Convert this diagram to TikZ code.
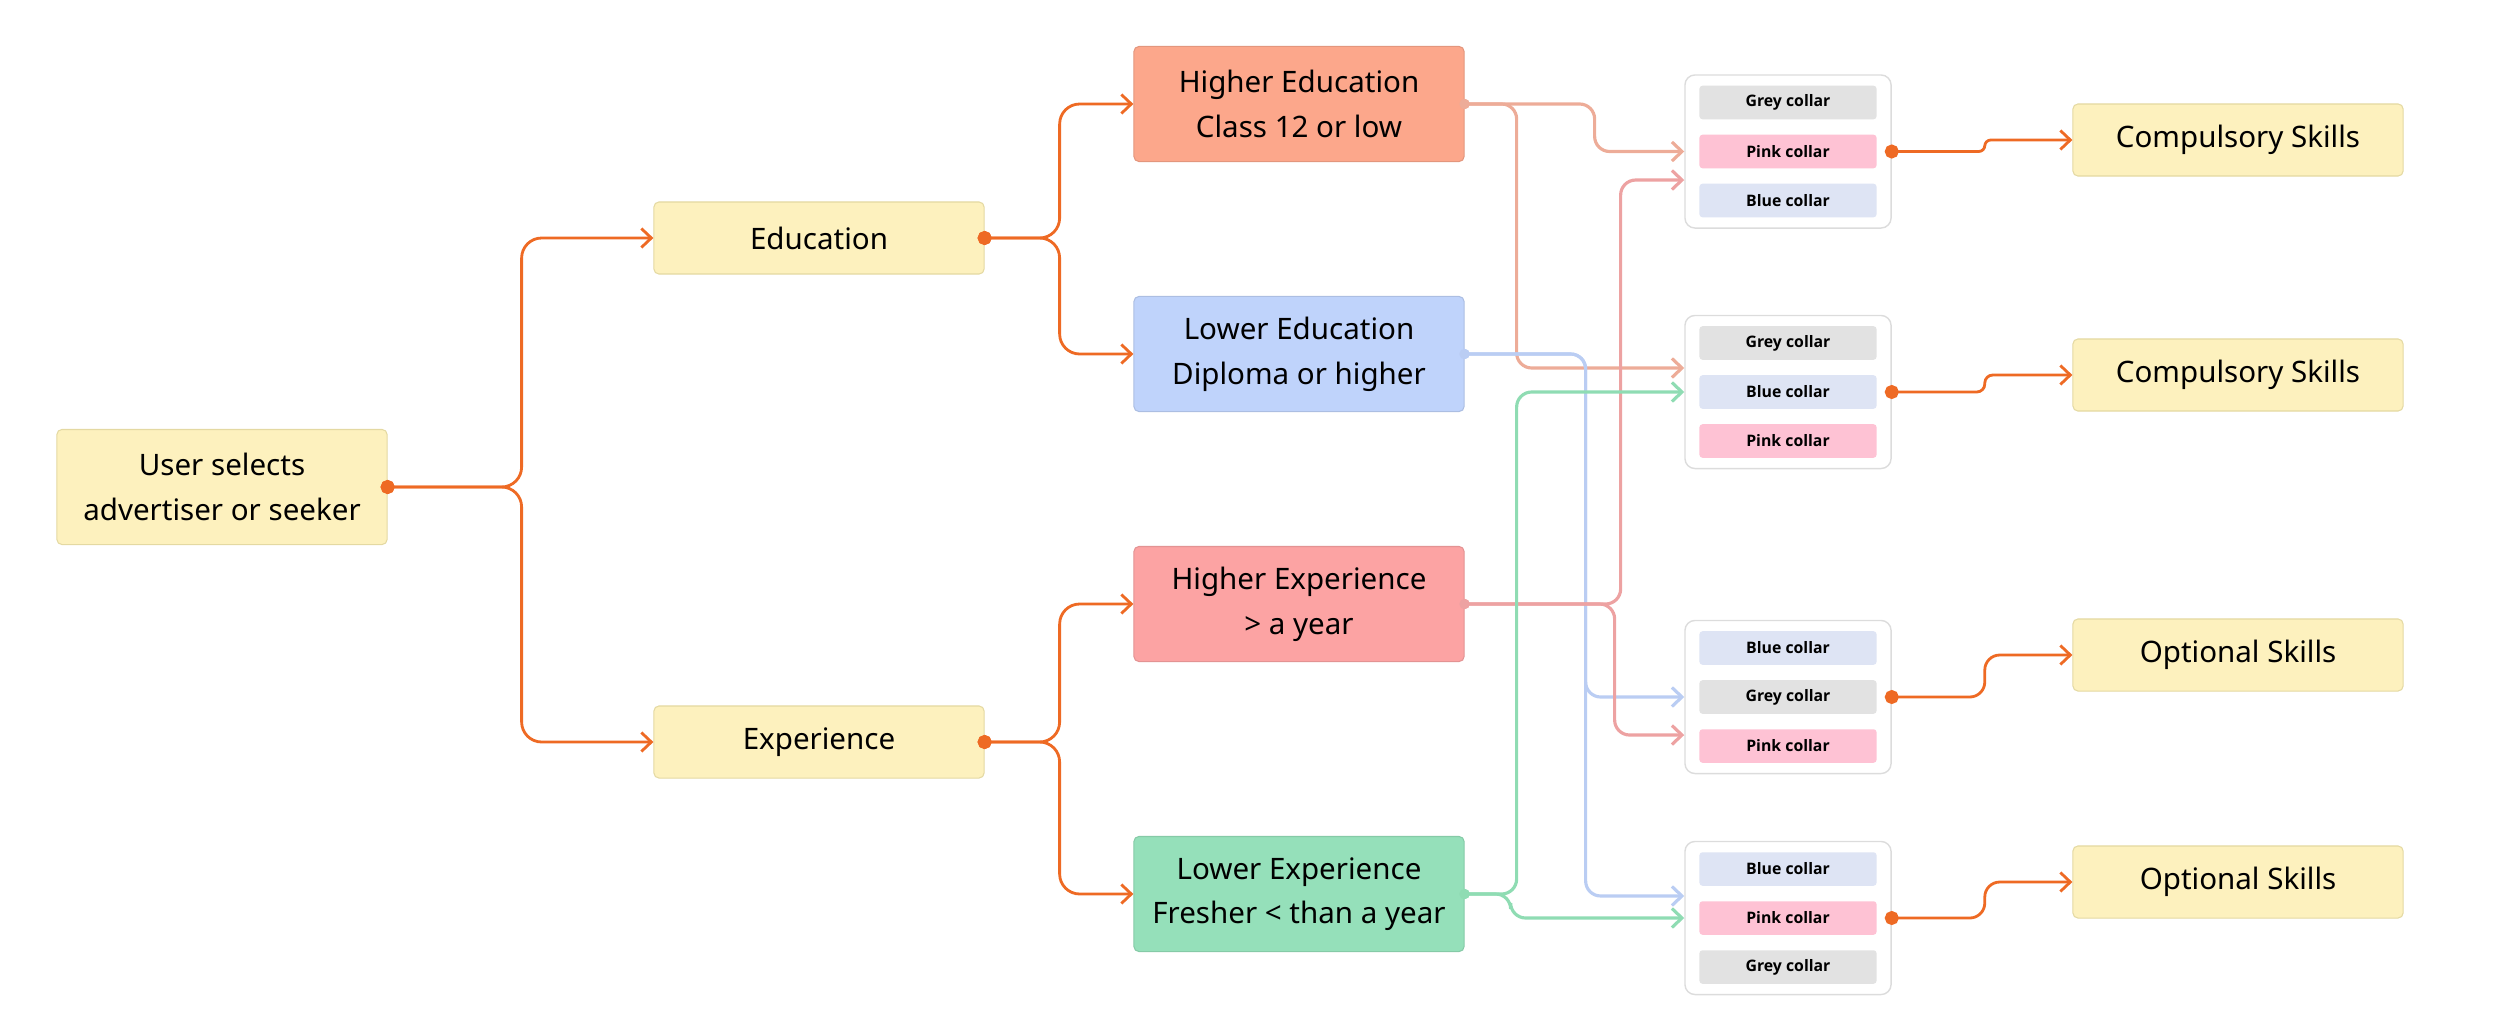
\documentclass[tikz,border=0pt]{standalone}
\usepackage{fontspec}
\setmainfont{Noto Sans}
\newfontfamily\collarfont{Open Sans}
\usetikzlibrary{arrows.meta}

\definecolor{flowline}{HTML}{EE6A24}
\definecolor{yellowbox}{HTML}{FDF1BE}
\definecolor{yellowedge}{HTML}{E4D9A2}
\definecolor{hedufill}{HTML}{FCA78B}
\definecolor{ledufill}{HTML}{BFD3FB}
\definecolor{hexpfill}{HTML}{FCA3A3}
\definecolor{lexpfill}{HTML}{95E0BA}
\definecolor{heduline}{HTML}{EDAC98}
\definecolor{leduline}{HTML}{BACDF3}
\definecolor{hexpline}{HTML}{EDA2A2}
\definecolor{lexpline}{HTML}{8FDCB3}
\definecolor{groupedge}{HTML}{DCDCDC}
\definecolor{greycollar}{HTML}{E2E2E2}
\definecolor{pinkcollar}{HTML}{FEC2D4}
\definecolor{bluecollar}{HTML}{DEE4F4}

\begin{document}
\begin{tikzpicture}[
    x=0.01cm,
    y=-0.01cm,
    box/.style={draw=yellowedge, fill=yellowbox, rounded corners=0.5mm, line width=0.3pt,
      minimum width=3.3cm, minimum height=0.72cm, inner sep=0, align=center,
      font=\fontsize{8.4}{12.7}\selectfont},
    tallbox/.style={box, minimum height=1.15cm},
    group/.style={draw=groupedge, fill=white, rounded corners=1mm, line width=0.4pt,
      minimum width=2.06cm, minimum height=1.53cm},
    collar/.style={minimum width=1.77cm, minimum height=0.335cm, inner sep=0,
      rounded corners=0.3mm, font=\collarfont\bfseries\fontsize{4.5}{5}\selectfont},
    greyc/.style={collar, fill=greycollar, node contents={Grey collar}},
    pinkc/.style={collar, fill=pinkcollar, node contents={Pink collar}},
    bluec/.style={collar, fill=bluecollar, node contents={Blue collar}},
    link/.style={draw=flowline, line width=0.8pt, rounded corners=2mm,
      {Circle[length=1.4mm]}-{Straight Barb[length=1mm,width=1.9mm]}, shorten <=-0.7mm},
    branch/.style={line width=0.9pt, rounded corners=1.5mm,
      {Circle[length=1mm]}-{Straight Barb[length=1mm,width=1.9mm]}, shorten <=-0.5mm},
  ]
  \useasboundingbox (0,0) rectangle (2500,1024);

  \node[tallbox] (user) at (222,487) {User selects\\advertiser or seeker};
  \node[box] (educ) at (819,238) {Education};
  \node[box] (expe) at (819,742) {Experience};

  \node[tallbox, fill=hedufill, draw=hedufill!90!black] (hedu) at (1299,104) {Higher Education\\Class 12 or low};
  \node[tallbox, fill=ledufill, draw=ledufill!90!black] (ledu) at (1299,354) {Lower Education\\Diploma or higher};
  \node[tallbox, fill=hexpfill, draw=hexpfill!90!black] (hexp) at (1299,604) {Higher Experience\\> a year};
  \node[tallbox, fill=lexpfill, draw=lexpfill!90!black] (lexp) at (1299,894) {Lower Experience\\Fresher < than a year};

  % collar groups
  \foreach \g/\y/\a/\b/\c in {1/151.5/greyc/pinkc/bluec, 2/392/greyc/bluec/pinkc,
                              3/697/bluec/greyc/pinkc, 4/918/bluec/pinkc/greyc} {
    \node[group] (g\g) at (1788,\y) {};
    \node[name=c\g1, at={(1788,\y-49)}, \a];
    \node[name=c\g2, at={(1788,\y)}, \b];
    \node[name=c\g3, at={(1788,\y+49)}, \c];
  }

  \node[box] (comp1) at (2238,140) {Compulsory Skills};
  \node[box] (comp2) at (2238,375) {Compulsory Skills};
  \node[box] (opt1) at (2238,655) {Optional Skills};
  \node[box] (opt2) at (2238,882) {Optional Skills};

  % main tree
  \draw[link] (user.east) -- ++(134,0) |- (educ.west);
  \draw[link] (user.east) -- ++(134,0) |- (expe.west);
  \draw[link] (educ.east) -- ++(75,0) |- (hedu.west);
  \draw[link] (educ.east) -- ++(75,0) |- (ledu.west);
  \draw[link] (expe.east) -- ++(75,0) |- (hexp.west);
  \draw[link] (expe.east) -- ++(75,0) |- (lexp.west);

  % branches into the collar groups
  \draw[branch, heduline] (hedu.east) -- ++(130,0) |- (g1.west);
  \draw[branch, heduline] (hedu.east) -- ++(52,0) |- ([yshift=2.4mm]g2.west);
  \draw[branch, leduline] (ledu.east) -- ++(121,0) |- (g3.west);
  \draw[branch, leduline] (ledu.east) -- ++(121,0) |- ([yshift=2.2mm]g4.west);
  \draw[branch, hexpline] (hexp.east) -- ++(156,0) |- ([yshift=-2.85mm]g1.west);
  \draw[branch, hexpline] (hexp.east) -- ++(150,0) |- ([yshift=-3.8mm]g3.west);
  \draw[branch, lexpline] (lexp.east) -- ++(52,0) |- (g2.west);
  \draw[branch, lexpline] (lexp.east) -- ++(46,0) |- (g4.west);

  % skills
  \draw[link, rounded corners=0.6mm] (g1.east) -- ++(93,0) |- (comp1.west);
  \draw[link, rounded corners=0.8mm] (g2.east) -- ++(93,0) |- (comp2.west);
  \draw[link, rounded corners=1.5mm] (g3.east) -- ++(93,0) |- (opt1.west);
  \draw[link, rounded corners=1.5mm] (g4.east) -- ++(93,0) |- (opt2.west);
\end{tikzpicture}
\end{document}
